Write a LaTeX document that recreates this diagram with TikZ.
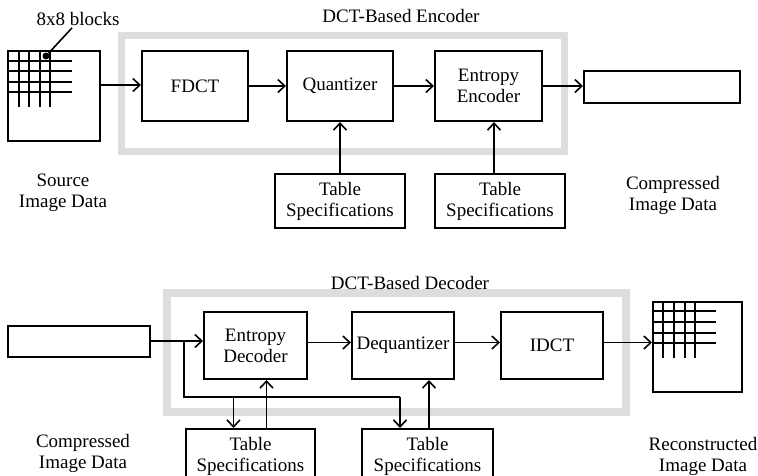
\documentclass[tikz,border=0pt]{standalone}
\usepackage{fontspec}
\setmainfont{Liberation Serif}
\usetikzlibrary{arrows.meta}
\definecolor{framegray}{RGB}{221,221,221}
\tikzset{
  blk/.style={draw,line width=2pt,inner sep=0pt,align=center},
  wire/.style={line width=1.6pt},
  arr/.style={wire,-{Straight Barb[length=7pt,width=13pt,line width=1.6pt]}},
  frame/.style={draw=framegray,line width=7pt},
  gridln/.style={line width=2.6pt},
  lbl/.style={align=center,inner sep=0pt}
}
\begin{document}
\begin{tikzpicture}[x=1pt,y=-1pt,font=\fontsize{19}{21}\selectfont]
\useasboundingbox (0,0) rectangle (758,475);
\clip (0,0) rectangle (758,475);
\draw[frame] (121.5,35.5) rectangle (564.5,151.5);
\draw[frame,line width=8pt] (167,293) rectangle (626,412);
\node[lbl] (enctitle) at (401,16) {DCT-Based Encoder};
\node[lbl] (dectitle) at (410,283) {DCT-Based Decoder};

\node[blk,minimum width=92pt,minimum height=90pt] (src) at (54,96) {};
\foreach \k in {12,22,33,43} {
  \draw[gridln] ([xshift=\k pt]src.north west) -- ++(0,57);
  \draw[gridln] ([yshift=-\k pt+1pt]src.north west) -- ++(65,0);
}
\node[fill,circle,inner sep=0pt,minimum size=7pt] (dot) at (46,56) {};
\node[lbl] (blocks) at (78,19) {8x8 blocks};
\draw[wire] (dot) -- ([xshift=-6pt,yshift=-2pt]blocks.south);

\node[blk,minimum width=106pt,minimum height=70pt] (fdct) at (195,86) {FDCT};
\node[blk,minimum width=106pt,minimum height=70pt] (quant) at (340,86) {Quantizer};
\node[blk,minimum width=107pt,minimum height=70pt] (entenc) at (488.5,86) {Entropy\\Encoder};
\node[blk,minimum width=156pt,minimum height=32pt] (cout) at (662,87) {};
\node[blk,minimum width=130pt,minimum height=54pt] (ts1) at (340,201) {Table\\Specifications};
\node[blk,minimum width=130pt,minimum height=54pt] (ts2) at (500,201) {Table\\Specifications};

\draw[arr] ([yshift=11pt]src.east) -- ([yshift=11pt]src.east -| fdct.west);
\draw[arr] (fdct) -- (quant);
\draw[arr] (quant) -- (entenc);
\draw[arr] (entenc.east) -- (entenc.east -| cout.west);
\draw[arr] (ts1.north) -- (quant.south);
\draw[arr] ([xshift=-6pt]ts2.north) -- ([xshift=-6pt]ts2.north |- entenc.south);

\node[lbl] (srclbl) at (63,193) {Source\\Image Data};
\node[lbl] (coutlbl) at (673,195) {Compressed\\Image Data};

\node[blk,minimum width=142pt,minimum height=31pt] (cin) at (79,341.5) {};
\node[blk,minimum width=103pt,minimum height=67pt] (entdec) at (255.5,345.5) {Entropy\\Decoder};
\node[blk,minimum width=102pt,minimum height=67pt] (deq) at (403,345.5) {Dequantizer};
\node[blk,minimum width=102pt,minimum height=67pt] (idct) at (552,345.5) {IDCT};
\node[blk,minimum width=89pt,minimum height=90pt] (rec) at (697.5,347) {};
\foreach \k in {11,22,33,43} {
  \draw[gridln] ([xshift=\k pt]rec.north west) -- ++(0,57);
  \draw[gridln] ([yshift=-\k pt+1pt]rec.north west) -- ++(64,0);
}
\node[blk,minimum width=129pt,minimum height=54pt] (ts3) at (250.5,456) {Table\\Specifications};
\node[blk,minimum width=131pt,minimum height=54pt] (ts4) at (427.5,456) {Table\\Specifications};

\coordinate (br) at ([xshift=33pt,yshift=0.5pt]cin.east);
\coordinate (bend) at (400,397);
\coordinate (d1) at ([xshift=-17pt]ts3.north);
\coordinate (u1) at ([xshift=16pt]ts3.north);
\coordinate (d2) at ([xshift=-27.5pt]ts4.north);
\coordinate (u2) at ([xshift=1.5pt]ts4.north);

\draw[arr] ([yshift=0.5pt]cin.east) -- ([yshift=0.5pt]cin.east -| entdec.west);
\draw[arr] ([yshift=3pt]entdec.east) -- ([yshift=3pt]deq.west);
\draw[arr] ([yshift=3pt]deq.east) -- ([yshift=3pt]idct.west);
\draw[arr] ([yshift=3pt]idct.east) -- ([yshift=3pt]idct.east -| rec.west);
\draw[wire] (br) |- (bend);
\draw[arr] (bend) -- (d2);
\draw[arr] (d1 |- bend) -- (d1);
\draw[arr] (u1) -- (u1 |- entdec.south);
\draw[arr] (u2) -- (u2 |- deq.south);

\node[lbl] (cinlbl) at (83,453) {Compressed\\Image Data};
\node[lbl] (reclbl) at (703,456) {Reconstructed\\Image Data};
\end{tikzpicture}
\end{document}
